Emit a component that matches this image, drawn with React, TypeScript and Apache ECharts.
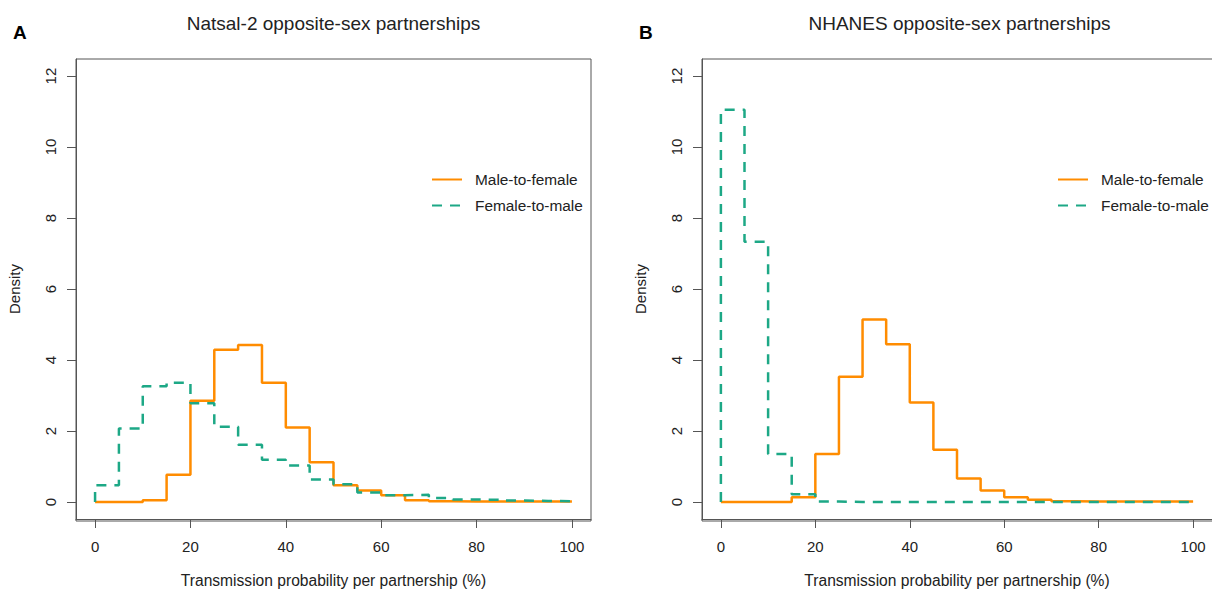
import React, { useEffect, useRef } from "react";
import * as echarts from "echarts";

// Histogram bins (left edges, %), width 5
const binStarts = [0, 5, 10, 15, 20, 25, 30, 35, 40, 45, 50, 55, 60, 65, 70, 75, 80, 85, 90, 95];
const binEnd = 100;

// Axis ticks
const xTicks = [0, 20, 40, 60, 80, 100];
const yTicks = [0, 2, 4, 6, 8, 10, 12];

// Panel A: Natsal-2
const natsalMaleToFemale = [0, 0, 0.05, 0.77, 2.85, 4.29, 4.42, 3.36, 2.1, 1.12, 0.47, 0.32, 0.19, 0.05, 0.02, 0.01, 0.01, 0.01, 0.01, 0.01];
const natsalFemaleToMale = [0.47, 2.07, 3.26, 3.36, 2.78, 2.12, 1.61, 1.19, 1.03, 0.63, 0.5, 0.27, 0.19, 0.2, 0.11, 0.07, 0.06, 0.04, 0.03, 0.02];

// Panel B: NHANES
const nhanesMaleToFemale = [0, 0, 0, 0.13, 1.35, 3.53, 5.14, 4.44, 2.8, 1.47, 0.66, 0.32, 0.13, 0.06, 0.02, 0.01, 0.01, 0.01, 0.01, 0.01];
const nhanesFemaleToMale = [11.05, 7.33, 1.35, 0.22, 0.01, 0, 0, 0, 0, 0, 0, 0, 0, 0, 0, 0, 0, 0, 0, 0];

const panelTitles = ["Natsal-2 opposite-sex partnerships", "NHANES opposite-sex partnerships"];
const panelLetters = ["A", "B"];
const seriesNames = ["Male-to-female", "Female-to-male"];
const xAxisTitle = "Transmission probability per partnership (%)";
const yAxisTitle = "Density";

const ORANGE = "#FF8C00";
const TEAL = "#1DA886";
const FRAME = "#555555";
const TEXT = "#222222";
const FONT = "'Liberation Sans', Arial, Helvetica, sans-serif";

function toSteps(vals: number[]): number[][] {
  const pts: number[][] = [[binStarts[0], 0]];
  vals.forEach((v, i) => pts.push([binStarts[i], v]));
  pts.push([binEnd, vals[vals.length - 1]]);
  return pts;
}

export default function App() {
  const ref = useRef<HTMLDivElement>(null);

  useEffect(() => {
    if (!ref.current) return;
    const chart = echarts.init(ref.current, undefined, { renderer: "svg" });

    const panelOffset = 626;
    // grid = R plot box (data range extended by 4% on each side)
    const grids = [
      { left: 76, width: 515, top: 59, height: 462 },
      { left: 76 + panelOffset, width: 515, top: 59, height: 462 },
    ];

    const xAxes = grids.map((_, i) => ({
      type: "value",
      gridIndex: i,
      min: -4,
      max: 104,
      position: "bottom",
      axisLine: { show: true, onZero: false, lineStyle: { color: FRAME, width: 1 } },
      axisTick: { show: true, length: 9, customValues: xTicks, lineStyle: { color: FRAME, width: 1 } },
      axisLabel: { margin: 20, fontSize: 15, color: TEXT, fontFamily: FONT, customValues: xTicks },
      splitLine: { show: false },
      name: xAxisTitle,
      nameLocation: "middle",
      nameGap: 53,
      nameTextStyle: { fontSize: 15.6, color: TEXT, fontFamily: FONT },
    }));

    const yAxes = grids.map((_, i) => ({
      type: "value",
      gridIndex: i,
      min: -0.48,
      max: 12.48,
      position: "left",
      axisLine: { show: true, onZero: false, lineStyle: { color: FRAME, width: 1 } },
      axisTick: { show: true, length: 9, customValues: yTicks, lineStyle: { color: FRAME, width: 1 } },
      axisLabel: { margin: 18, rotate: 90, fontSize: 15, color: TEXT, fontFamily: FONT, customValues: yTicks },
      splitLine: { show: false },
      name: yAxisTitle,
      nameLocation: "middle",
      nameGap: 54,
      nameTextStyle: { fontSize: 15, color: TEXT, fontFamily: FONT },
    }));

    const panels = [
      [natsalMaleToFemale, natsalFemaleToMale],
      [nhanesMaleToFemale, nhanesFemaleToMale],
    ];

    const series: any[] = [];
    panels.forEach((p, i) => {
      series.push({
        type: "line",
        name: seriesNames[0],
        xAxisIndex: i,
        yAxisIndex: i,
        data: toSteps(p[0]),
        step: "end",
        symbol: "none",
        lineStyle: { color: ORANGE, width: 2.5 },
        itemStyle: { color: ORANGE },
        z: 2,
      });
      series.push({
        type: "line",
        name: seriesNames[1],
        xAxisIndex: i,
        yAxisIndex: i,
        data: toSteps(p[1]),
        step: "end",
        symbol: "none",
        lineStyle: { color: TEAL, width: 2.5, type: [10, 8] },
        itemStyle: { color: TEAL },
        z: 3,
      });
    });

    const legends = [0, 1].map((i) => ({
      left: 431 + i * panelOffset,
      top: 172,
      orient: "vertical",
      padding: 0,
      itemWidth: 30,
      itemHeight: 14,
      itemGap: 11,
      selectedMode: false,
      data: seriesNames,
      itemStyle: { opacity: 0, borderWidth: 0 },
      textStyle: { fontSize: 15.4, color: TEXT, fontFamily: FONT, padding: [0, 0, 0, 8] },
    }));

    const graphic: any[] = [];
    [0, 1].forEach((i) => {
      const ox = i * panelOffset;
      graphic.push({
        type: "rect",
        shape: { x: 76 + ox, y: 59, width: 515, height: 462 },
        style: { fill: "none", stroke: FRAME, lineWidth: 1 },
        silent: true,
      });
      graphic.push({
        type: "text",
        x: 333.5 + ox,
        y: 23.5,
        style: {
          text: panelTitles[i],
          fontSize: 19,
          fontFamily: FONT,
          fill: TEXT,
          textAlign: "center",
          textVerticalAlign: "middle",
        },
      });
      graphic.push({
        type: "text",
        x: 13 + ox,
        y: 32,
        style: {
          text: panelLetters[i],
          fontSize: 19,
          fontWeight: "bold",
          fontFamily: FONT,
          fill: "#000",
          textAlign: "left",
          textVerticalAlign: "middle",
        },
      });
    });

    chart.setOption({
      animation: false,
      backgroundColor: "#ffffff",
      grid: grids,
      xAxis: xAxes,
      yAxis: yAxes,
      legend: legends,
      series,
      graphic,
    });

    return () => chart.dispose();
  }, []);

  return (
    <div
      ref={ref}
      style={{ position: "fixed", left: 0, top: 0, width: 1212, height: 593, background: "#fff" }}
    />
  );
}
